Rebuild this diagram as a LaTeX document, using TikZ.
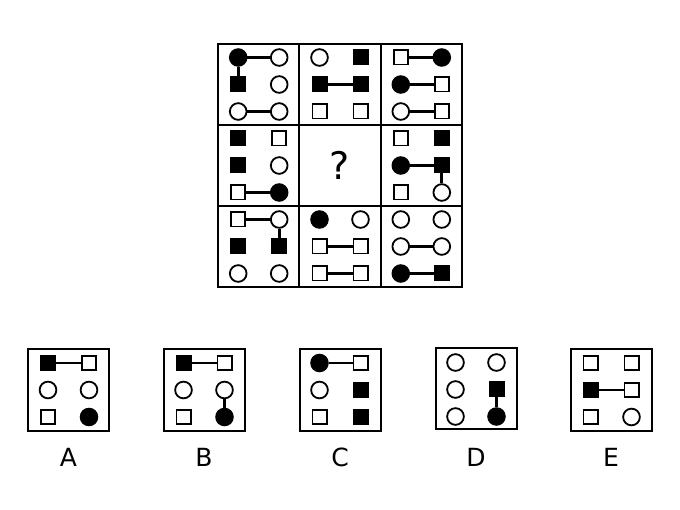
\documentclass[tikz,border=0pt]{standalone}
\usepackage{fontspec}
\setmainfont{DejaVu Sans}
\newcommand\cellpat[9]{%
  \node[#4] (#1a) at (#2-20.5,#3-27) {};
  \node[#5] (#1b) at (#2+20.5,#3-27) {};
  \node[#6] (#1c) at (#2-20.5,#3) {};
  \node[#7] (#1d) at (#2+20.5,#3) {};
  \node[#8] (#1e) at (#2-20.5,#3+27) {};
  \node[#9] (#1f) at (#2+20.5,#3+27) {};
}
\begin{document}
\begin{tikzpicture}[x=1pt,y=-1pt,
  frame/.style={draw,line width=2pt},
  box/.style={rectangle,draw,line width=2pt,minimum width=81pt,minimum height=81pt,inner sep=0pt},
  oc/.style={circle,draw,line width=1.8pt,fill=white,minimum size=16.7pt,inner sep=0pt},
  fc/.style={oc,fill=black},
  os/.style={rectangle,draw,line width=1.8pt,fill=white,minimum size=14.2pt,inner sep=0pt},
  fs/.style={os,fill=black},
  link/.style={line width=2.8pt},
  lbl/.style={font=\fontsize{25}{25}\selectfont,inner sep=0pt}
]
\useasboundingbox (0,0) rectangle (680,510);
\fill[white] (0,0) rectangle (680,510);

% grid
\draw[frame] (218,44) rectangle (462,287);
\draw[frame] (299.3,44) -- (299.3,287);
\draw[frame] (380.7,44) -- (380.7,287);
\draw[frame] (218,125) -- (462,125);
\draw[frame] (218,206) -- (462,206);

% row 1
\cellpat{p}{258.7}{84.5}{fc}{oc}{fs}{oc}{oc}{oc}
\draw[link] (pa) -- (pb); \draw[link] (pa) -- (pc); \draw[link] (pe) -- (pf);
\cellpat{q}{340}{84.5}{oc}{fs}{fs}{fs}{os}{os}
\draw[link] (qc) -- (qd);
\cellpat{r}{421.3}{84.5}{os}{fc}{fc}{os}{oc}{os}
\draw[link] (ra) -- (rb); \draw[link] (rc) -- (rd); \draw[link] (re) -- (rf);
% row 2
\cellpat{s}{258.7}{165.5}{fs}{os}{fs}{oc}{os}{fc}
\draw[link] (se) -- (sf);
\node[font=\fontsize{38}{38}\selectfont,inner sep=0pt] (qm) at (340,165.5) {?};
\cellpat{t}{421.3}{165.5}{os}{fs}{fc}{fs}{os}{oc}
\draw[link] (tc) -- (td); \draw[link] (td) -- (tf);
% row 3
\cellpat{u}{258.7}{246.5}{os}{oc}{fs}{fs}{oc}{oc}
\draw[link] (ua) -- (ub); \draw[link] (ub) -- (ud);
\cellpat{v}{340}{246.5}{fc}{oc}{os}{os}{os}{os}
\draw[link] (vc) -- (vd); \draw[link] (ve) -- (vf);
\cellpat{w}{421.3}{246.5}{oc}{oc}{oc}{oc}{fc}{fs}
\draw[link] (wc) -- (wd); \draw[link] (we) -- (wf);

% answers
\node[box] (bA) at (68.5,390) {};
\cellpat{A}{68.5}{390}{fs}{os}{oc}{oc}{os}{fc}
\draw[link] (Aa) -- (Ab);
\node[lbl] (lA) at (68.5,457.5) {A};

\node[box] (bB) at (204,390) {};
\cellpat{B}{204}{390}{fs}{os}{oc}{oc}{os}{fc}
\draw[link] (Ba) -- (Bb); \draw[link] (Bd) -- (Bf);
\node[lbl] (lB) at (204,457.5) {B};

\node[box] (bC) at (340,390) {};
\cellpat{C}{340}{390}{fc}{os}{oc}{fs}{os}{fs}
\draw[link] (Ca) -- (Cb);
\node[lbl] (lC) at (340,457.5) {C};

\node[box] (bD) at (476,388.7) {};
\cellpat{D}{476}{389.5}{oc}{oc}{oc}{fs}{oc}{fc}
\draw[link] (Dd) -- (Df);
\node[lbl] (lD) at (476,457.5) {D};

\node[box] (bE) at (611,390) {};
\cellpat{E}{611}{390}{os}{os}{fs}{os}{os}{oc}
\draw[link] (Ec) -- (Ed);
\node[lbl] (lE) at (611,457.5) {E};
\end{tikzpicture}
\end{document}
